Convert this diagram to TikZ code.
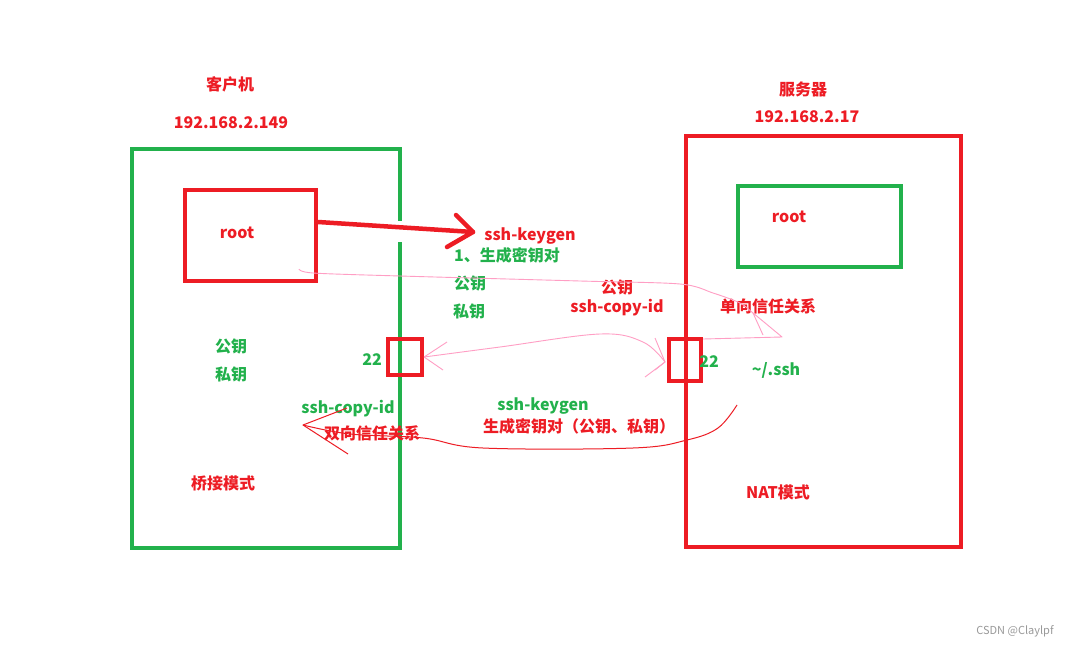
\documentclass[tikz,border=0pt]{standalone}
\usepackage{fontspec}
\setmainfont{Noto Sans CJK SC}
\usetikzlibrary{calc}
\definecolor{pred}{HTML}{ED1C24}
\definecolor{pgreen}{HTML}{22B14C}
\definecolor{ppink}{HTML}{FF9EC4}
\tikzset{
  box/.style={draw, line width=4.2pt, inner sep=0pt},
  lbl/.style={font=\fontsize{16}{18}\selectfont\bfseries, inner sep=0pt, anchor=center},
  rlbl/.style={lbl, text=pred},
  glbl/.style={lbl, text=pgreen},
  pinkline/.style={draw=ppink, line width=0.9pt, line join=round},
  thinred/.style={draw=pred, line width=1pt, line join=round},
}
\begin{document}
\begin{tikzpicture}[x=1pt,y=-1pt]
\useasboundingbox (0,0) rectangle (1075,647);
\fill[white] (0,0) rectangle (1075,647);
% main boxes
\draw[box, pgreen] (132,149) rectangle (400,548);
\fill[white] (397,221) rectangle (403,242);
\draw[box, pred] (686,136) rectangle (961,547);
\node[box, pred, minimum width=131pt, minimum height=91pt] (croot) at (250.5,235.5) {};
\node[box, pgreen, minimum width=163pt, minimum height=81pt] (sroot) at (819.5,226.5) {};
\node[box, pred, minimum width=34pt, minimum height=36pt] (cport) at (405,357) {};
\node[box, pred, minimum width=32pt, minimum height=42pt] (sport) at (685,360) {};
% labels
\node[rlbl] (ckh) at (230,84) {客户机};
\node[rlbl] (cip) at (231,123) {192.168.2.149};
\node[rlbl] (fwq) at (803,89) {服务器};
\node[rlbl] (sip) at (807,117) {192.168.2.17};
\node[rlbl] (croottxt) at (237,233) {root};
\node[rlbl] (sroottxt) at (789,217) {root};
\node[rlbl] (kg) at (530,236) {ssh-keygen};
\node[glbl] (gen) at (507,255) {1、生成密钥对};
\node[glbl] (pub1) at (470,283) {公钥};
\node[glbl] (pri1) at (469,311) {私钥};
\node[glbl] (pub2) at (231,346) {公钥};
\node[glbl] (pri2) at (231,374) {私钥};
\node[glbl] (p22a) at (372,360) {22};
\node[glbl] (p22b) at (709,362) {22};
\node[glbl] (ssh) at (776,370) {\textasciitilde/.ssh};
\node[rlbl] (pub3) at (617,287) {公钥};
\node[rlbl] (sci1) at (617,308) {ssh-copy-id};
\node[rlbl] (oneway) at (768,306) {单向信任关系};
\node[glbl] (sci2) at (348,409) {ssh-copy-id};
\node[rlbl] (twoway) at (372,433) {双向信任关系};
\node[glbl] (kg2) at (543,406) {ssh-keygen};
\node[rlbl] (gen2) at (579,426) {生成密钥对（公钥、私钥）};
\node[rlbl] (bridge) at (223,483) {桥接模式};
\node[rlbl] (nat) at (778,492) {NAT模式};
\node[text=gray!80, font=\fontsize{11}{13}\selectfont, inner sep=0pt] (wm) at (1015,631) {CSDN @Claylpf};
% red thick arrow
\coordinate (tip) at (473,232);
\draw[pred, line width=4.5pt, line cap=round] (croot.east |- 0,222) -- (tip);
\draw[pred, line width=4.5pt, line cap=round, line join=round] (456,215) -- (tip) -- (447,247);
% pink curve 1: client root -> one-way trust -> server port
\coordinate (p1s) at (299,269);
\draw[pinkline] plot[smooth, tension=0.5] coordinates {(p1s) (313,273) (400,276) (580,281) (680,284) (713,293) (740,303) (753,313) (782,337)} -- (sport.east |- 0,339);
\draw[pinkline] (753,313) -- (763,335);
% pink curve 2: server port <-> client port
\coordinate (p2a) at (cport.east);
\coordinate (p2b) at (665,362);
\draw[pinkline] plot[smooth, tension=0.6] coordinates {(p2a) (500,347) (600,334) (643,342) (p2b)};
\draw[pinkline] (447,342) -- (p2a) -- (443,370);
\draw[pinkline] (655,338) -- (p2b) -- (645,377);
\draw[pinkline] (p2b) -- (655,370);
% red thin curve: server -> client (two-way)
\coordinate (r3s) at (737,405);
\coordinate (r3e) at (303,425);
\draw[thinred] plot[smooth, tension=0.6] coordinates {(r3s) (718,428) (687,440) (633,448) (483,448) (423,438) (350,434) (r3e)};
\draw[thinred] (347,408) -- (r3e) -- (348,454);
\end{tikzpicture}
\end{document}
